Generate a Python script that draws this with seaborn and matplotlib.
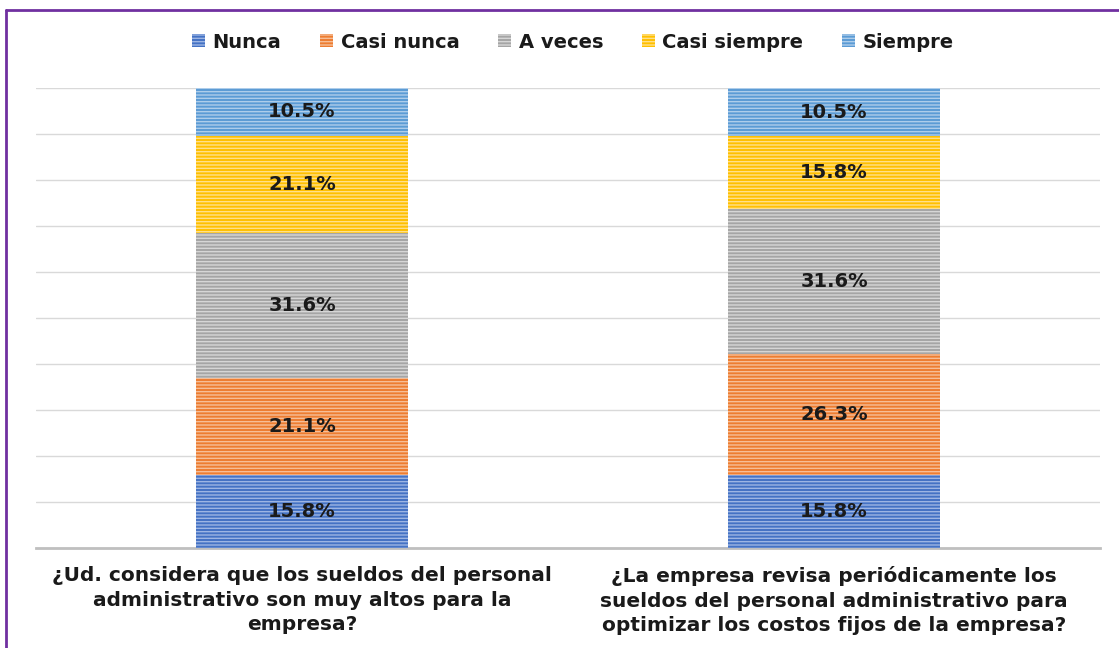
import numpy as np
import pandas as pd
import seaborn as sns
import matplotlib.pyplot as plt
from matplotlib.lines import Line2D
from matplotlib.patches import Patch

questions = [
    "¿Ud. considera que los sueldos del personal\nadministrativo son muy altos para la\nempresa?",
    "¿La empresa revisa periódicamente los\nsueldos del personal administrativo para\noptimizar los costos fijos de la empresa?",
]
series = ["Nunca", "Casi nunca", "A veces", "Casi siempre", "Siempre"]
nunca = [15.8, 15.8]
casi_nunca = [21.1, 26.3]
a_veces = [31.6, 31.6]
casi_siempre = [21.1, 15.8]
siempre = [10.5, 10.5]

colors = ["#4472C4", "#ED7D31", "#A5A5A5", "#FFC000", "#5B9BD5"]
light = ["#9DB5E3", "#F6BE97", "#D6D6D6", "#FFE08A", "#AECDEA"]

df = pd.DataFrame({
    "question": questions,
    "Nunca": nunca,
    "Casi nunca": casi_nunca,
    "A veces": a_veces,
    "Casi siempre": casi_siempre,
    "Siempre": siempre,
})

sns.set_theme(style="white")
plt.rcParams['font.family'] = ['DejaVu Sans']
plt.rcParams['hatch.linewidth'] = 1.0

fig = plt.figure(figsize=(11.19, 6.48), dpi=100)
ax = fig.add_axes([36 / 1119, 100 / 648, 1064 / 1119, 460 / 648])

x = np.arange(len(questions))
bottom = np.zeros(len(questions))
for name, c, lc in zip(series, colors, light):
    vals = df[name].to_numpy()
    bars = ax.bar(x, vals, width=0.4, bottom=bottom, color=c, edgecolor=lc,
                  linewidth=0, hatch="-----", zorder=3)
    labels = [f"{v:.1f}%" for v in vals]
    ax.bar_label(bars, labels=labels, label_type="center", fontsize=14,
                 fontweight="bold", color="#1A1A1A", zorder=4)
    bottom += vals

ax.set_xlim(-0.5, 1.5)
ax.set_ylim(0, 100)
ax.set_yticks(np.arange(0, 101, 10))
ax.set_yticklabels([])
ax.tick_params(axis="y", length=0)
ax.yaxis.grid(True, color="#D9D9D9", linewidth=1, zorder=0)
ax.set_xticks(x)
ax.set_xticklabels(questions, fontsize=14.5, fontweight="bold", color="#1A1A1A",
                   linespacing=1.38)
ax.tick_params(axis="x", length=0, pad=13)
for s in ["top", "right", "left"]:
    ax.spines[s].set_visible(False)
ax.spines["bottom"].set_color("#BFBFBF")
ax.spines["bottom"].set_linewidth(2)

handles = [Patch(facecolor=c, edgecolor=lc, hatch="-----", linewidth=0) for c, lc in zip(colors, light)]
fig.legend(handles, series, loc="center", bbox_to_anchor=(573 / 1119, 1 - 42 / 648),
           ncol=5, frameon=False, prop={"size": 14, "weight": "bold"},
           handlelength=0.65, handleheight=0.65, handletextpad=0.4, columnspacing=2.0,
           labelcolor="#1A1A1A")

# purple frame (top and left edges visible)
fig.add_artist(Line2D([6 / 1119, 1], [1 - 10 / 648, 1 - 10 / 648], color="#7030A0", linewidth=2))
fig.add_artist(Line2D([6 / 1119, 6 / 1119], [0, 1 - 10 / 648], color="#7030A0", linewidth=2))

fig.savefig("out.png", dpi=100)
